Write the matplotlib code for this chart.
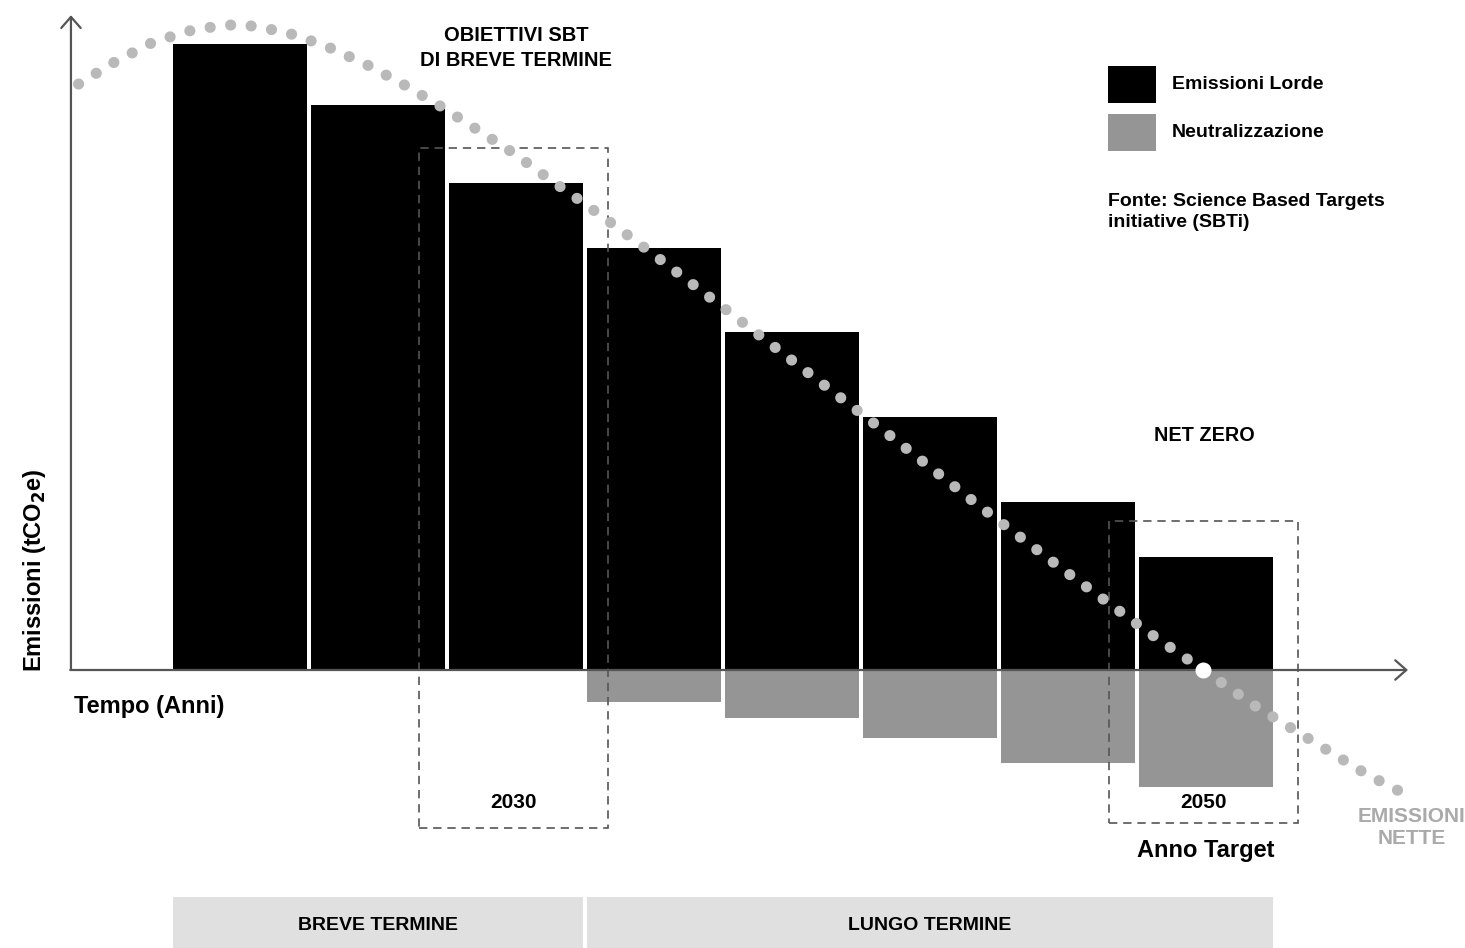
import matplotlib
matplotlib.use("Agg")
import matplotlib.pyplot as plt
from matplotlib.patches import Rectangle
import numpy as np

plt.rcParams['font.family'] = ['Liberation Sans', 'DejaVu Sans']

# Emissioni per periodo (indice 100 = primo anno)
periodi = np.arange(8)
emissioni_lorde = [100.0, 90.3, 77.8, 67.4, 54.0, 40.4, 26.8, 18.1]
neutralizzazione = [0.0, 0.0, 0.0, 5.1, 7.7, 10.9, 14.9, 18.7]

# traiettoria delle emissioni nette (curva a punti)
netto_x = [-1.17, -0.91, -0.63, -0.32, 0.0, 0.33, 0.62, 0.91, 1.18, 1.45, 1.72,
           1.98, 2.23, 2.49, 2.74, 2.99, 3.49, 4.11, 4.73, 5.34, 5.96, 6.59,
           6.98, 7.36, 7.76, 8.16, 8.44]
netto_y = [93.6, 97.1, 100.3, 102.4, 103.2, 101.9, 99.7, 96.8, 93.6, 90.1, 86.3,
           82.6, 78.6, 74.6, 70.6, 66.5, 58.1, 47.6, 37.1, 26.5, 16.1, 5.9,
           0.0, -5.8, -11.2, -16.6, -19.8]
net_zero_x = 6.98

# anni obiettivo (centro del riquadro, in periodi)
obiettivi = [("2030", 1.98), ("2050", 6.98)]
fasi = [("BREVE TERMINE", 0, 2), ("LUNGO TERMINE", 3, 7)]
legenda = ["Emissioni Lorde", "Neutralizzazione"]

NERO = '#000000'
GRIGIO = '#959595'
PUNTI = '#b9b9b9'
ASSE = '#555555'
W = 0.978

fig = plt.figure(figsize=(14.65, 9.48), dpi=100)
ax = fig.add_axes([0, 0, 1, 1])
ax.set_xlim(-240 / 138, 1225 / 138)
ax.set_ylim(-278 / 6.26, 670 / 6.26)
ax.axis('off')

ax.bar(periodi, emissioni_lorde, width=W, color=NERO, zorder=2)
mask = np.array(neutralizzazione) > 0
ax.bar(periodi[mask], -np.array(neutralizzazione)[mask], width=W, color=GRIGIO, zorder=2)

# assi con frecce
x0 = -1.225
freccia = dict(arrowstyle='->,head_length=0.4,head_width=0.35', color=ASSE,
               lw=1.6, mutation_scale=20, shrinkA=0, shrinkB=0)
ax.annotate('', xy=(x0, 104.6), xytext=(x0, 0), zorder=3, arrowprops=freccia)
ax.annotate('', xy=(8.464, 0), xytext=(x0 - 0.005, 0), zorder=3, arrowprops=freccia)

# riquadri tratteggiati degli anni obiettivo
box_top = {"2030": 83.4, "2050": 23.8}
box_bottom = {"2030": -25.2, "2050": -24.4}
for anno, c in obiettivi:
    half = 0.685
    ax.add_patch(Rectangle((c - half, box_bottom[anno]), 2 * half, box_top[anno] - box_bottom[anno],
                           fill=False, ec=ASSE, lw=1.2, ls=(0, (5, 3.5)), zorder=3))
    ax.text(c, -21.2, anno, ha='center', va='center', fontsize=15, fontweight='bold')

# curva delle emissioni nette
ax.plot(netto_x, netto_y, color=PUNTI, lw=8.0, ls=(0, (0.01, 1.85)),
        dash_capstyle='round', zorder=4)
ax.plot([net_zero_x], [0], 'o', ms=10.5, color='white', zorder=5)

# fasce temporali
for nome, a, b in fasi:
    left = a - W / 2
    right = b + W / 2
    ax.add_patch(Rectangle((left, -45), right - left, 45 - 36.3, color='#e0e0e0',
                           lw=0, zorder=1, clip_on=False))
    ax.text((left + right) / 2, -40.75, nome, ha='center', va='center',
            fontsize=14, fontweight='bold')

ax.text(2.0, 99.3, "OBIETTIVI SBT\nDI BREVE TERMINE", ha='center', va='center',
        fontsize=14.5, fontweight='bold', linespacing=1.4)
ax.text(6.99, 37.5, "NET ZERO", ha='center', va='center', fontsize=14.3, fontweight='bold')
ax.text(7.0, -28.9, "Anno Target", ha='center', va='center', fontsize=17, fontweight='bold')
ax.text(-1.203, -5.9, "Tempo (Anni)", ha='left', va='center', fontsize=17, fontweight='bold')
ax.text(-1.486, 16.0, "Emissioni (tCO$_\\mathbf{2}$e)", ha='center', va='center',
        rotation=90, fontsize=17, fontweight='bold')
ax.text(8.49, -25.2, "EMISSIONI\nNETTE", ha='center', va='center', color='#aaaaaa',
        fontsize=15, fontweight='bold', linespacing=1.2)

# legenda
for k, (nome, col) in enumerate(zip(legenda, [NERO, GRIGIO])):
    top = 66 + 48 * k
    fig.add_artist(Rectangle((1108 / 1465, 1 - (top + 37) / 948), 48 / 1465, 37 / 948,
                             transform=fig.transFigure, color=col, lw=0))
    fig.text(1172 / 1465, 1 - (top + 18.5) / 948, nome, ha='left', va='center',
             fontsize=14, fontweight='bold')

fig.text(1108 / 1465, 1 - 193 / 948, "Fonte: Science Based Targets\ninitiative (SBTi)",
         ha='left', va='top', fontsize=14, fontweight='bold', linespacing=1.3)

fig.savefig('out.png', dpi=100)
